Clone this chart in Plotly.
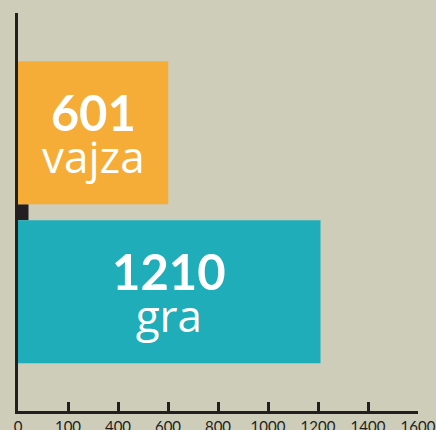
import plotly.graph_objects as go

categories = ["vajza", "gra"]
values = [601, 1210]
bar_colors = ["#f6ad37", "#1eadb9"]
tick_vals = [0, 200, 400, 600, 800, 1000, 1200, 1400, 1600]
tick_text = ["0", "100", "400", "600", "800", "1000", "1200", "1400", "1600"]

BG = "#cecdba"
INK = "#231f20"

fig = go.Figure()
fig.add_trace(go.Bar(
    x=values, y=categories, orientation="h",
    marker=dict(color=bar_colors, line=dict(width=0)),
    width=0.9, hoverinfo="skip",
))

for cat, val in zip(categories, values):
    fig.add_annotation(
        x=val / 2, y=cat, xref="x", yref="y", showarrow=False, yshift=-2,
        text=(f"<span style='font-size:49px'><b>{val}</b></span><br>"
              f"<span style='font-size:44px;font-family:Open Sans'>{cat}</span>"),
        font=dict(family="Lato", size=32, color="white"))

# small dark block between bars at the axis
fig.add_shape(type="rect", xref="x", yref="y", x0=0, x1=42, y0=0.45, y1=0.55,
              fillcolor=INK, line=dict(width=0), layer="below")

fig.update_layout(
    width=436, height=430,
    margin=dict(l=18, r=18, t=13, b=19),
    paper_bgcolor=BG, plot_bgcolor=BG,
    showlegend=False,
    xaxis=dict(range=[0, 1600], tickvals=tick_vals, ticktext=tick_text,
               automargin=False,
               showgrid=False, zeroline=False, showline=True, linewidth=3,
               linecolor=INK, ticks="inside", ticklen=9, tickwidth=3,
               tickcolor=INK, tickfont=dict(family="Lato", size=15, color=INK)),
    yaxis=dict(categoryorder="array", categoryarray=["gra", "vajza"],
               automargin=False,
               range=[-0.75, 1.753], showgrid=False, zeroline=False,
               showline=True, linewidth=3, linecolor=INK, showticklabels=False,
               ticks=""),
)

fig.write_html("out.html", config={"displayModeBar": False},
               post_script="document.body.style.margin='0';"
                           "document.body.style.background='" + BG + "';")
